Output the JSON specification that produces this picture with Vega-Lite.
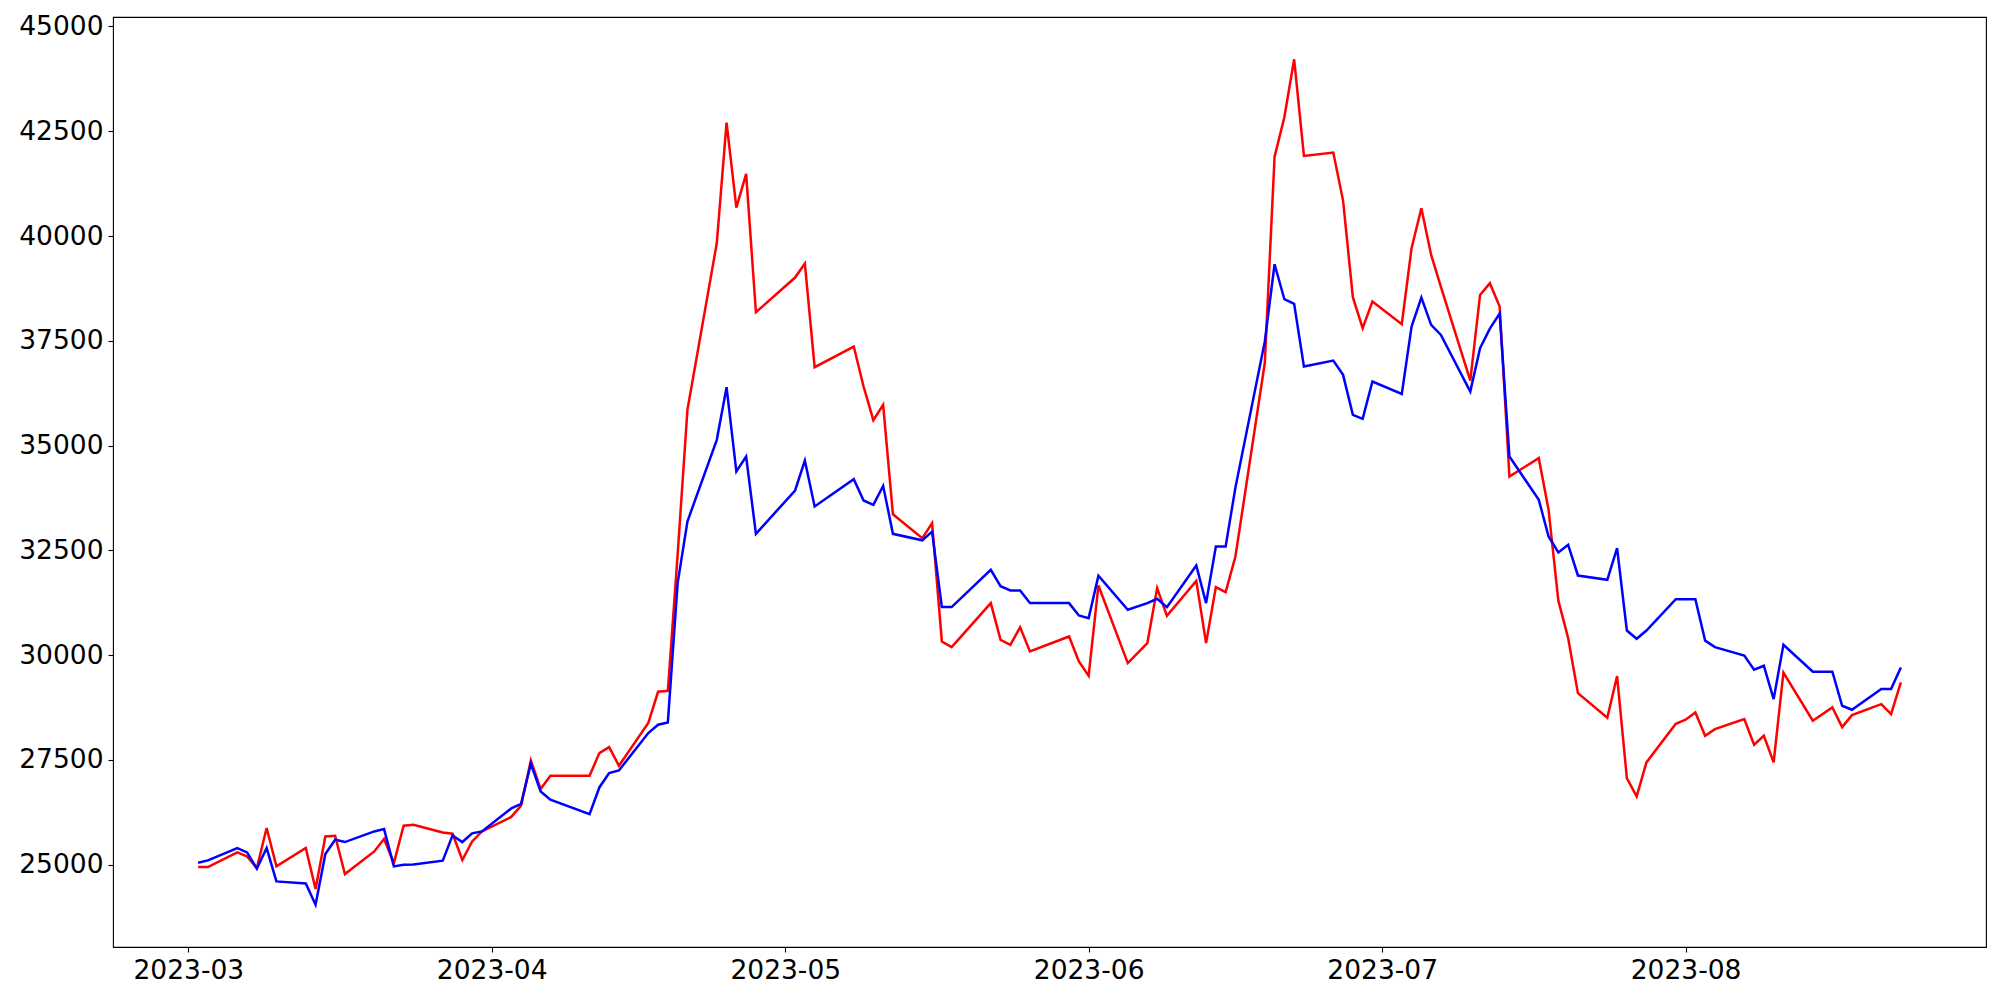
{
  "$schema": "https://vega.github.io/schema/vega-lite/v6.json",
  "width": 1873,
  "height": 930,
  "autosize": "none",
  "padding": {"left": 113, "top": 17, "right": 14, "bottom": 53},
  "background": "white",
  "data": {
    "values": [
      {"date": "2023-03-02", "red": 24944, "blue": 25047},
      {"date": "2023-03-03", "red": 24944, "blue": 25102},
      {"date": "2023-03-06", "red": 25293, "blue": 25397},
      {"date": "2023-03-07", "red": 25197, "blue": 25293},
      {"date": "2023-03-08", "red": 24920, "blue": 24904},
      {"date": "2023-03-09", "red": 25875, "blue": 25397},
      {"date": "2023-03-10", "red": 24959, "blue": 24601},
      {"date": "2023-03-13", "red": 25397, "blue": 24553},
      {"date": "2023-03-14", "red": 24419, "blue": 24045},
      {"date": "2023-03-15", "red": 25675, "blue": 25254},
      {"date": "2023-03-16", "red": 25691, "blue": 25596},
      {"date": "2023-03-17", "red": 24777, "blue": 25540},
      {"date": "2023-03-20", "red": 25317, "blue": 25794},
      {"date": "2023-03-21", "red": 25612, "blue": 25850},
      {"date": "2023-03-22", "red": 25039, "blue": 24959},
      {"date": "2023-03-23", "red": 25930, "blue": 24999},
      {"date": "2023-03-24", "red": 25954, "blue": 25005},
      {"date": "2023-03-27", "red": 25770, "blue": 25095},
      {"date": "2023-03-28", "red": 25739, "blue": 25699},
      {"date": "2023-03-29", "red": 25111, "blue": 25540},
      {"date": "2023-03-30", "red": 25556, "blue": 25747},
      {"date": "2023-03-31", "red": 25794, "blue": 25794},
      {"date": "2023-04-03", "red": 26140, "blue": 26343},
      {"date": "2023-04-04", "red": 26410, "blue": 26450},
      {"date": "2023-04-05", "red": 27487, "blue": 27409},
      {"date": "2023-04-06", "red": 26805, "blue": 26748},
      {"date": "2023-04-07", "red": 27122, "blue": 26550},
      {"date": "2023-04-11", "red": 27122, "blue": 26208},
      {"date": "2023-04-12", "red": 27663, "blue": 26843},
      {"date": "2023-04-13", "red": 27806, "blue": 27186},
      {"date": "2023-04-14", "red": 27361, "blue": 27249},
      {"date": "2023-04-17", "red": 28379, "blue": 28140},
      {"date": "2023-04-18", "red": 29126, "blue": 28339},
      {"date": "2023-04-19", "red": 29150, "blue": 28394},
      {"date": "2023-04-20", "red": 32400, "blue": 31718},
      {"date": "2023-04-21", "red": 35852, "blue": 33189},
      {"date": "2023-04-24", "red": 39828, "blue": 35137},
      {"date": "2023-04-25", "red": 42706, "blue": 36393},
      {"date": "2023-04-26", "red": 40678, "blue": 34381},
      {"date": "2023-04-27", "red": 41482, "blue": 34739},
      {"date": "2023-04-28", "red": 38182, "blue": 32894},
      {"date": "2023-05-02", "red": 39009, "blue": 33928},
      {"date": "2023-05-03", "red": 39343, "blue": 34643},
      {"date": "2023-05-04", "red": 36870, "blue": 33546},
      {"date": "2023-05-08", "red": 37363, "blue": 34199},
      {"date": "2023-05-09", "red": 36409, "blue": 33690},
      {"date": "2023-05-10", "red": 35606, "blue": 33586},
      {"date": "2023-05-11", "red": 35972, "blue": 34039},
      {"date": "2023-05-12", "red": 33360, "blue": 32894},
      {"date": "2023-05-15", "red": 32791, "blue": 32740},
      {"date": "2023-05-16", "red": 33149, "blue": 32946},
      {"date": "2023-05-17", "red": 30326, "blue": 31146},
      {"date": "2023-05-18", "red": 30192, "blue": 31146},
      {"date": "2023-05-22", "red": 31241, "blue": 32036},
      {"date": "2023-05-23", "red": 30366, "blue": 31646},
      {"date": "2023-05-24", "red": 30247, "blue": 31542},
      {"date": "2023-05-25", "red": 30665, "blue": 31542},
      {"date": "2023-05-26", "red": 30088, "blue": 31241},
      {"date": "2023-05-30", "red": 30445, "blue": 31241},
      {"date": "2023-05-31", "red": 29849, "blue": 30946},
      {"date": "2023-06-01", "red": 29507, "blue": 30883},
      {"date": "2023-06-02", "red": 31662, "blue": 31893},
      {"date": "2023-06-05", "red": 29810, "blue": 31082},
      {"date": "2023-06-07", "red": 30287, "blue": 31241},
      {"date": "2023-06-08", "red": 31599, "blue": 31344},
      {"date": "2023-06-09", "red": 30938, "blue": 31146},
      {"date": "2023-06-12", "red": 31773, "blue": 32139},
      {"date": "2023-06-13", "red": 30287, "blue": 31241},
      {"date": "2023-06-14", "red": 31623, "blue": 32592},
      {"date": "2023-06-15", "red": 31504, "blue": 32592},
      {"date": "2023-06-16", "red": 32353, "blue": 34000},
      {"date": "2023-06-19", "red": 36970, "blue": 37480},
      {"date": "2023-06-20", "red": 41895, "blue": 39327},
      {"date": "2023-06-21", "red": 42834, "blue": 38492},
      {"date": "2023-06-22", "red": 44217, "blue": 38381},
      {"date": "2023-06-23", "red": 41911, "blue": 36886},
      {"date": "2023-06-26", "red": 41990, "blue": 37029},
      {"date": "2023-06-27", "red": 40845, "blue": 36687},
      {"date": "2023-06-28", "red": 38540, "blue": 35733},
      {"date": "2023-06-29", "red": 37801, "blue": 35638},
      {"date": "2023-06-30", "red": 38436, "blue": 36528},
      {"date": "2023-07-03", "red": 37896, "blue": 36234},
      {"date": "2023-07-04", "red": 39709, "blue": 37840},
      {"date": "2023-07-05", "red": 40663, "blue": 38532},
      {"date": "2023-07-06", "red": 39550, "blue": 37880},
      {"date": "2023-07-07", "red": 38786, "blue": 37641},
      {"date": "2023-07-10", "red": 36552, "blue": 36290},
      {"date": "2023-07-11", "red": 38595, "blue": 37323},
      {"date": "2023-07-12", "red": 38874, "blue": 37790},
      {"date": "2023-07-13", "red": 38320, "blue": 38150},
      {"date": "2023-07-14", "red": 34262, "blue": 34739},
      {"date": "2023-07-17", "red": 34700, "blue": 33706},
      {"date": "2023-07-18", "red": 33467, "blue": 32831},
      {"date": "2023-07-19", "red": 31300, "blue": 32449},
      {"date": "2023-07-20", "red": 30406, "blue": 32632},
      {"date": "2023-07-21", "red": 29094, "blue": 31900},
      {"date": "2023-07-24", "red": 28505, "blue": 31797},
      {"date": "2023-07-25", "red": 29500, "blue": 32553},
      {"date": "2023-07-26", "red": 27067, "blue": 30588},
      {"date": "2023-07-27", "red": 26629, "blue": 30390},
      {"date": "2023-07-28", "red": 27440, "blue": 30588},
      {"date": "2023-07-31", "red": 28363, "blue": 31336},
      {"date": "2023-08-01", "red": 28458, "blue": 31336},
      {"date": "2023-08-02", "red": 28632, "blue": 31336},
      {"date": "2023-08-03", "red": 28076, "blue": 30346},
      {"date": "2023-08-04", "red": 28235, "blue": 30192},
      {"date": "2023-08-07", "red": 28474, "blue": 29992},
      {"date": "2023-08-08", "red": 27862, "blue": 29651},
      {"date": "2023-08-09", "red": 28076, "blue": 29746},
      {"date": "2023-08-10", "red": 27440, "blue": 28951},
      {"date": "2023-08-11", "red": 29586, "blue": 30247},
      {"date": "2023-08-14", "red": 28434, "blue": 29603},
      {"date": "2023-08-16", "red": 28752, "blue": 29603},
      {"date": "2023-08-17", "red": 28283, "blue": 28792},
      {"date": "2023-08-18", "red": 28569, "blue": 28697},
      {"date": "2023-08-21", "red": 28832, "blue": 29190},
      {"date": "2023-08-22", "red": 28593, "blue": 29190},
      {"date": "2023-08-23", "red": 29348, "blue": 29706}
    ]
  },
  "encoding": {
    "x": {
      "field": "date",
      "type": "temporal",
      "scale": {
        "type": "utc",
        "nice": false,
        "domain": [
          {"year": 2023, "month": 2, "date": 21, "hours": 7, "minutes": 12, "utc": true},
          {"year": 2023, "month": 8, "date": 31, "hours": 16, "minutes": 48, "utc": true}
        ]
      },
      "axis": {
        "title": null,
        "format": "%Y-%m",
        "values": [
          {"year": 2023, "month": 3, "date": 1, "utc": true},
          {"year": 2023, "month": 4, "date": 1, "utc": true},
          {"year": 2023, "month": 5, "date": 1, "utc": true},
          {"year": 2023, "month": 6, "date": 1, "utc": true},
          {"year": 2023, "month": 7, "date": 1, "utc": true},
          {"year": 2023, "month": 8, "date": 1, "utc": true}
        ]
      }
    }
  },
  "layer": [
    {
      "mark": {"type": "line", "color": "#ff0000", "strokeWidth": 2.5, "clip": true},
      "encoding": {
        "y": {
          "field": "red",
          "type": "quantitative",
          "scale": {"domain": [23036, 45226], "nice": false, "zero": false},
          "axis": {"title": null, "format": "d", "values": [25000, 27500, 30000, 32500, 35000, 37500, 40000, 42500, 45000]}
        }
      }
    },
    {
      "mark": {"type": "line", "color": "#0000ff", "strokeWidth": 2.5, "clip": true},
      "encoding": {
        "y": {"field": "blue", "type": "quantitative"}
      }
    }
  ],
  "config": {
    "view": {"stroke": "black", "strokeWidth": 1.1},
    "axis": {
      "labelFont": "DejaVu Sans",
      "labelFontSize": 26.5,
      "labelColor": "black",
      "tickColor": "black",
      "tickSize": 5,
      "tickWidth": 1.1,
      "domain": false,
      "grid": false,
      "labelPadding": 5,
      "labelFlush": false,
      "labelOverlap": false
    }
  }
}
